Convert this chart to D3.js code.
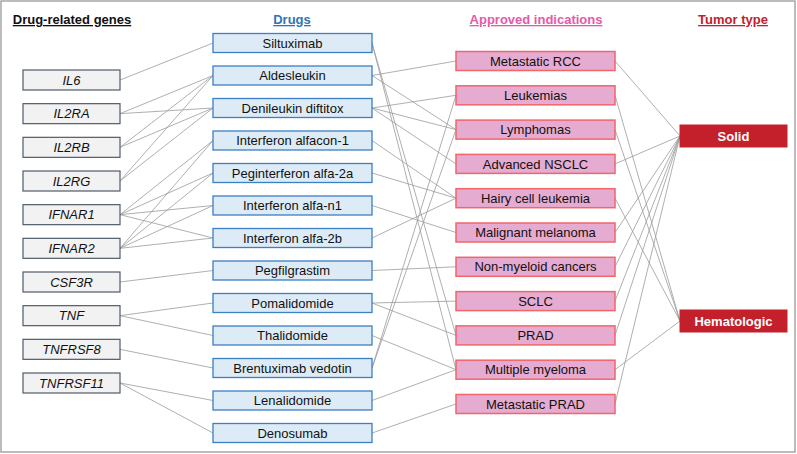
<!DOCTYPE html>
<html>
<head>
<meta charset="utf-8">
<script src="https://cdn.jsdelivr.net/npm/d3@7"></script>
<style>
  body { margin: 0; background: #fff; }
  svg text { font-family: "Liberation Sans", Arial, sans-serif; }
</style>
</head>
<body>
<svg id="chart" width="797" height="454"></svg>
<script>
// Columns
var genes = ['IL6', 'IL2RA', 'IL2RB', 'IL2RG', 'IFNAR1', 'IFNAR2', 'CSF3R', 'TNF', 'TNFRSF8', 'TNFRSF11']
var drugs = ['Siltuximab', 'Aldesleukin', 'Denileukin diftitox', 'Interferon alfacon-1', 'Peginterferon alfa-2a',
  'Interferon alfa-n1', 'Interferon alfa-2b', 'Pegfilgrastim', 'Pomalidomide', 'Thalidomide',
  'Brentuximab vedotin', 'Lenalidomide', 'Denosumab']
var indications = ['Metastatic RCC', 'Leukemias', 'Lymphomas', 'Advanced NSCLC', 'Hairy cell leukemia',
  'Malignant melanoma', 'Non-myeloid cancers', 'SCLC', 'PRAD', 'Multiple myeloma', 'Metastatic PRAD']
var tumorTypes = ['Solid', 'Hematologic']
var headers = ['Drug-related genes', 'Drugs', 'Approved indications', 'Tumor type']

// Links
var geneDrug = [
  ['IL6', 'Siltuximab'],
  ['IL2RA', 'Aldesleukin'], ['IL2RA', 'Denileukin diftitox'],
  ['IL2RB', 'Aldesleukin'], ['IL2RB', 'Denileukin diftitox'],
  ['IL2RG', 'Aldesleukin'], ['IL2RG', 'Denileukin diftitox'],
  ['IFNAR1', 'Interferon alfacon-1'], ['IFNAR1', 'Peginterferon alfa-2a'],
  ['IFNAR1', 'Interferon alfa-n1'], ['IFNAR1', 'Interferon alfa-2b'],
  ['IFNAR2', 'Interferon alfacon-1'], ['IFNAR2', 'Peginterferon alfa-2a'],
  ['IFNAR2', 'Interferon alfa-n1'], ['IFNAR2', 'Interferon alfa-2b'],
  ['CSF3R', 'Pegfilgrastim'],
  ['TNF', 'Pomalidomide'], ['TNF', 'Thalidomide'],
  ['TNFRSF8', 'Brentuximab vedotin'],
  ['TNFRSF11', 'Lenalidomide'], ['TNFRSF11', 'Denosumab']
]
var drugIndication = [
  ['Siltuximab', 'PRAD'], ['Siltuximab', 'Multiple myeloma'],
  ['Aldesleukin', 'Metastatic RCC'], ['Aldesleukin', 'Lymphomas'],
  ['Denileukin diftitox', 'Leukemias'], ['Denileukin diftitox', 'Lymphomas'], ['Denileukin diftitox', 'Advanced NSCLC'],
  ['Interferon alfacon-1', 'Hairy cell leukemia'],
  ['Peginterferon alfa-2a', 'Hairy cell leukemia'],
  ['Interferon alfa-n1', 'Malignant melanoma'],
  ['Interferon alfa-2b', 'Hairy cell leukemia'],
  ['Pegfilgrastim', 'Non-myeloid cancers'],
  ['Pomalidomide', 'SCLC'], ['Pomalidomide', 'PRAD'],
  ['Thalidomide', 'Multiple myeloma'],
  ['Brentuximab vedotin', 'Leukemias'], ['Brentuximab vedotin', 'Lymphomas'],
  ['Lenalidomide', 'Multiple myeloma'],
  ['Denosumab', 'Metastatic PRAD']
]
var indicationTumor = [
  ['Metastatic RCC', 'Solid'], ['Leukemias', 'Hematologic'], ['Lymphomas', 'Hematologic'],
  ['Advanced NSCLC', 'Solid'], ['Hairy cell leukemia', 'Hematologic'], ['Malignant melanoma', 'Solid'],
  ['Non-myeloid cancers', 'Solid'], ['SCLC', 'Solid'], ['PRAD', 'Solid'],
  ['Multiple myeloma', 'Hematologic'], ['Metastatic PRAD', 'Solid']
]

var svg = d3.select('#chart')

// column geometry
var cols = [
  { items: genes, x: 23, w: 97, h: 20, range: [80, 383], fill: '#f2f2f2', stroke: '#4f5b6b', sw: 1.2, color: '#111', italic: true, head: '#111', hx: 72 },
  { items: drugs, x: 213, w: 159, h: 19, range: [43, 433], fill: '#ddebf7', stroke: '#3b7fc4', sw: 1.3, color: '#111', head: '#2e75b6', hx: 292 },
  { items: indications, x: 456, w: 159, h: 19, range: [61, 404], fill: '#e6abd0', stroke: '#f0666a', sw: 1.5, color: '#111', head: '#e35aa8', hx: 536 },
  { items: tumorTypes, x: 680, w: 107, h: 22, range: [136, 321], fill: '#c4202b', stroke: '#c4202b', sw: 1, color: '#fff', bold: true, head: '#c4202b', hx: 733 }
]
cols.forEach(c => {
  c.y = d3.scalePoint().domain(c.items).range(c.range)
})

// outer frame
svg.append('rect')
  .attr('x', 1).attr('y', 1)
  .attr('width', 794).attr('height', 451)
  .attr('fill', 'none')
  .attr('stroke', '#a6a6a6')
  .attr('stroke-width', 1.5)

// links between neighbouring columns
var linkSets = [geneDrug, drugIndication, indicationTumor]
linkSets.forEach((links, i) => {
  var a = cols[i], b = cols[i + 1]
  svg.append('g')
    .selectAll('line')
    .data(links)
    .enter()
    .append('line')
    .attr('x1', a.x + a.w)
    .attr('y1', d => a.y(d[0]))
    .attr('x2', b.x)
    .attr('y2', d => b.y(d[1]))
    .attr('stroke', '#9a9a9a')
    .attr('stroke-width', 0.8)
})

// boxes
cols.forEach((c, i) => {
  var g = svg.append('g')
    .selectAll('g')
    .data(c.items)
    .enter()
    .append('g')
    .attr('transform', d => `translate(${c.x}, ${c.y(d) - c.h / 2})`)

  g.append('rect')
    .attr('width', c.w)
    .attr('height', c.h)
    .attr('fill', c.fill)
    .attr('stroke', c.stroke)
    .attr('stroke-width', c.sw)

  g.append('text')
    .text(d => d)
    .attr('x', c.w / 2)
    .attr('y', c.h / 2)
    .attr('dy', '0.36em')
    .attr('text-anchor', 'middle')
    .attr('font-size', 13)
    .attr('font-style', c.italic ? 'italic' : 'normal')
    .attr('font-weight', c.bold ? 'bold' : 'normal')
    .attr('fill', c.color)

  // column header
  svg.append('text')
    .text(headers[i])
    .attr('x', c.hx)
    .attr('y', 24)
    .attr('text-anchor', 'middle')
    .attr('font-size', 13)
    .attr('font-weight', 'bold')
    .attr('text-decoration', 'underline')
    .attr('fill', c.head)
})
</script>
</body>
</html>
